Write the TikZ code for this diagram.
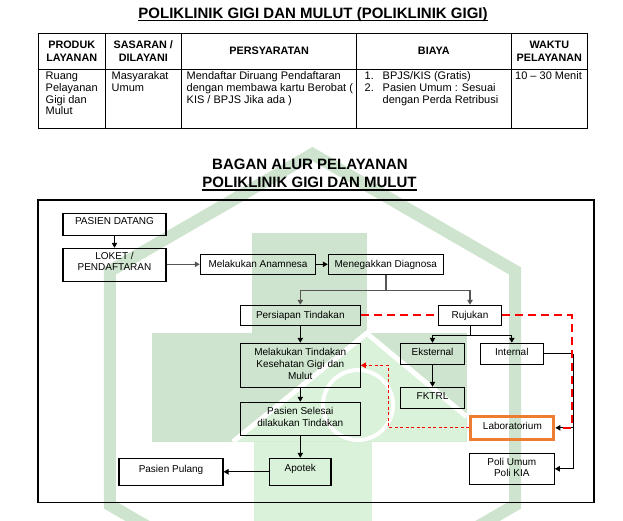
\documentclass[tikz,border=0pt]{standalone}
\usepackage{fontspec}
\setmainfont{Liberation Sans}
\usetikzlibrary{arrows.meta,calc}
\definecolor{wmdark}{RGB}{206,228,206}
\definecolor{wmlight}{RGB}{217,242,217}
\definecolor{labor}{RGB}{237,125,49}
\definecolor{gline}{RGB}{85,85,85}
\newcommand\dgfont{\fontsize{10}{12}\selectfont}
\newcommand\tbfont{\fontsize{11}{11.9}\selectfont}
\newcommand\thfont{\fontsize{10.8}{13.4}\selectfont\bfseries}
\tikzset{
  fbox/.style={draw, line width=1.1pt, inner sep=0pt, align=center, font=\dgfont},
  sline/.style={text height=7.2pt, text depth=#1},
  sline/.default=0pt,
  arr/.style={line width=0.9pt, -{Triangle[length=5pt,width=5.5pt]}},
  plain/.style={line width=0.9pt},
  garr/.style={line width=1.5pt, draw=gline, -{Triangle[length=5pt,width=5.5pt]}},
  gplain/.style={line width=1.5pt, draw=gline},
  rthick/.style={draw=red, line width=2pt, dash pattern=on 8pt off 5pt},
  rthin/.style={draw=red, line width=0.9pt, dash pattern=on 3pt off 2.5pt, -{Triangle[length=5pt,width=5.5pt]}},
  hdr/.style={align=center, font=\thfont, inner sep=0pt},
  body/.style={inner sep=0pt, font=\tbfont, anchor=base west},
  ttl/.style={inner sep=0pt, font=\fontsize{15}{17}\selectfont\bfseries, anchor=base},
  tline/.style={line width=1pt}
}
\begin{document}
\begin{tikzpicture}[x=1pt,y=-1pt]
\useasboundingbox (0,0) rectangle (623,521);
\fill[white] (0,0) rectangle (623,521);
% watermark
\begin{scope}
\clip (0,0) rectangle (623,521);
\fill[wmdark, even odd rule]
  (312.5,147) -- (521.2,267.5) -- (521.2,508.5) -- (312.5,629) -- (103.8,508.5) -- (103.8,267.5) -- cycle
  (312.5,161) -- (509.1,274.5) -- (509.1,501.5) -- (312.5,615) -- (115.9,501.5) -- (115.9,274.5) -- cycle;
\fill[wmdark] (252,233.3) rectangle (367,333.3);
\fill[wmdark] (151.7,333.3) rectangle (466.7,441.7);
\fill[wmlight] (254,441.7) rectangle (372,521);
\fill[wmlight] (233,441.7) -- (366.7,333.3) -- (466.7,416.7) -- (466.7,441.7) -- cycle;
\draw[white, line width=5pt] (233,441.7) -- (366.7,333.3) -- (466.7,416.7);
\draw[white, line width=4pt] (358,405) circle (35);
\end{scope}

% title 1
\node[ttl] (t1) at (313,18.3) {POLIKLINIK GIGI DAN MULUT (POLIKLINIK GIGI)};
\draw[line width=1.3pt] ([yshift=-2.4pt]t1.base west) -- ([yshift=-2.4pt]t1.base east);

% table
\draw[tline] (38.3,34) rectangle (587.7,128.3);
\draw[tline] (38.3,69.3) -- (587.7,69.3);
\foreach \cx in {105,181.7,356.7,511} \draw[tline] (\cx,34) -- (\cx,128.3);
\node[hdr] (h1) at (71.7,51.2) {PRODUK\\LAYANAN};
\node[hdr] (h2) at (143.3,51.2) {SASARAN /\\DILAYANI};
\node[hdr] (h3) at (269.2,51.2) {PERSYARATAN};
\node[hdr] (h4) at (433.8,51.2) {BIAYA};
\node[hdr] (h5) at (549.3,51.2) {WAKTU\\PELAYANAN};
\node[body] (b1) at (45.5,79.3) {\parbox[t]{60pt}{Ruang\\Pelayanan\\Gigi dan\\Mulut}};
\node[body] (b2) at (111.5,79.3) {\parbox[t]{70pt}{Masyarakat\\Umum}};
\node[body] (b3) at (186.5,79.3) {\parbox[t]{172pt}{Mendaftar Diruang Pendaftaran\\dengan membawa kartu Berobat (\\KIS / BPJS Jika ada )}};
\node[body] (b4) at (364.5,79.3) {\parbox[t]{150pt}{\makebox[18pt][l]{1.}BPJS/KIS (Gratis)\\\makebox[18pt][l]{2.}Pasien Umum : Sesuai\\\hspace*{18pt}dengan Perda Retribusi}};
\node[body] (b5) at (515,79.3) {10 – 30 Menit};

% title 2
\node[ttl] (t2) at (310,170) {BAGAN ALUR PELAYANAN};
\node[ttl] (t3) at (309.5,187.7) {POLIKLINIK GIGI DAN MULUT};
\draw[line width=1.3pt] ([yshift=-2.4pt]t3.base west) -- ([yshift=-2.4pt]t3.base east);

% frame
\draw[line width=1.1pt] (38,200) rectangle (594,502.7);

% nodes
\node[fbox, sline=7.2pt, minimum width=103pt, minimum height=22pt] (pd) at (114.5,224.3) {PASIEN DATANG};
\node[fbox, font=\fontsize{10}{11}\selectfont, minimum width=103pt, minimum height=33pt] (lok) at (114.5,264.8) {LOKET /\\PENDAFTARAN\rule[-7pt]{0pt}{0pt}};
\node[fbox, sline=1pt, minimum width=115.4pt, minimum height=20pt] (ana) at (258,264.3) {Melakukan Anamnesa};
\node[fbox, sline=1pt, minimum width=115pt, minimum height=20pt] (dia) at (385.8,264.3) {Menegakkan Diagnosa};
\node[fbox, sline=1pt, minimum width=120pt, minimum height=20pt] (per) at (300.3,315.3) {Persiapan Tindakan};
\node[fbox, sline=1pt, minimum width=63.4pt, minimum height=20pt] (ruj) at (470,315.3) {Rujukan};
\node[fbox, minimum width=120pt, minimum height=44pt] (mel) at (300.3,365.3) {Melakukan Tindakan\\Kesehatan Gigi dan\\Mulut\rule[-3.6pt]{0pt}{0pt}};
\node[fbox, minimum width=120pt, minimum height=33pt] (sel) at (300.3,418.8) {Pasien Selesai\\dilakukan Tindakan\rule[-3.2pt]{0pt}{0pt}};
\node[fbox, sline=7pt, minimum width=61.4pt, minimum height=27pt] (apo) at (300.3,471.8) {Apotek};
\node[fbox, sline=5.6pt, minimum width=104pt, minimum height=27pt] (pul) at (171,471.8) {Pasien Pulang};
\node[fbox, sline=4pt, minimum width=64.4pt, minimum height=21pt] (eks) at (432.5,353.8) {Eksternal};
\node[fbox, sline=4pt, minimum width=63pt, minimum height=21pt] (int) at (511.8,353.8) {Internal};
\node[fbox, sline=4pt, minimum width=64.4pt, minimum height=21pt] (fk) at (432.5,397.8) {FKTRL};
\node[fbox, sline=4pt, draw=labor, line width=3pt, minimum width=83pt, minimum height=23.5pt] (lab) at (512.4,427.8) {Laboratorium};
\node[fbox, font=\fontsize{10}{11}\selectfont, minimum width=85pt, minimum height=31pt] (pol) at (511.8,468.8) {Poli Umum\\Poli KIA\rule[-3.2pt]{0pt}{0pt}};

% connectors
\draw[arr] (pd) -- (lok);
\draw[garr] (lok.east |- ana.west) -- (ana.west);
\draw[arr] (ana) -- (dia);
\path (dia.south) ++(0,15.7) coordinate (j1);
\draw[gplain] (dia.south) -- (j1);
\draw[garr] (j1) -| (per.north);
\draw[garr] (j1) -| (ruj.north);
\path (ruj.south) ++(0,9.7) coordinate (j2);
\draw[plain] (ruj.south) -- (j2);
\draw[arr] (j2) -| (eks.north);
\draw[arr] (j2) -| (int.north);
\draw[arr] (per) -- (mel);
\draw[arr] (mel) -- (sel);
\draw[arr] (sel) -- (apo);
\draw[arr] (apo) -- (pul);
\draw[arr] (eks) -- (fk);
\coordinate (j3) at (573.3,353.8);
\draw[plain] (int.east) -- (j3);
\draw[arr] (j3) |- (pol.east);
\draw[arr] (j3 |- lab.east) -- (lab.east);
% red dashed
\coordinate (r1) at (571.6,427.8);
\coordinate (r2) at ($(lab.east)+(6,0)$);
\draw[rthick] (per.east) -- (ruj.west);
\draw[rthick] (ruj.east) -| (r1) -- (r2);
\coordinate (r3) at (388.5,427.8);
\draw[rthin] (lab.west) -- (r3) |- (mel.east);
\end{tikzpicture}
\end{document}
